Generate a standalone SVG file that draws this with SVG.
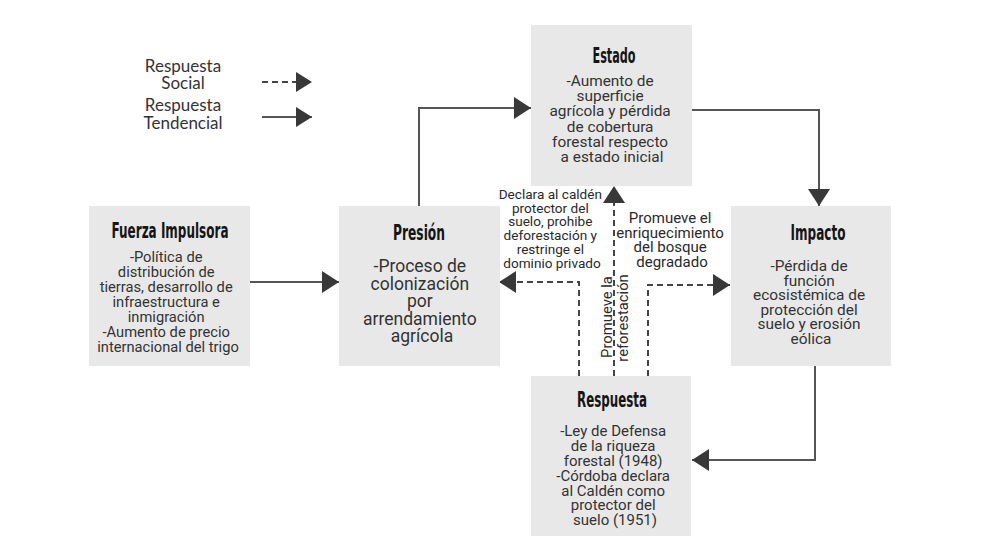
<svg xmlns="http://www.w3.org/2000/svg" width="1004" height="552" viewBox="0 0 1004 552">
<style>
.box{fill:#e8e8e8;}
.title{font-family:"Liberation Sans Narrow","DejaVu Sans Condensed","DejaVu Sans",sans-serif;font-weight:bold;font-stretch:condensed;font-size:21px;fill:#151515;text-anchor:middle;}
.body{font-family:Roboto,"Liberation Sans",sans-serif;fill:#333;text-anchor:middle;}
.lbl{font-family:Roboto,"Liberation Sans",sans-serif;fill:#2a2a2a;text-anchor:middle;}
.leg{font-family:Lato,"Liberation Sans",sans-serif;font-size:17px;fill:#333;text-anchor:middle;}
.solid{fill:none;stroke:#555;stroke-width:2;}
.dash{fill:none;stroke:#444;stroke-width:2;stroke-dasharray:6,4;}
</style>
<defs>
<marker id="ah" markerUnits="userSpaceOnUse" markerWidth="18" markerHeight="22" refX="17" refY="11" orient="auto">
<path d="M0,0 L17,11 L0,22 Z" fill="#383838"/>
</marker>
<marker id="ahl" markerUnits="userSpaceOnUse" markerWidth="17" markerHeight="20" refX="16" refY="10" orient="auto">
<path d="M0,0 L16,10 L0,20 Z" fill="#383838"/>
</marker>
</defs>
<rect width="1004" height="552" fill="#ffffff"/>

<g id="legend">
<text class="leg" x="183" y="72">Respuesta</text>
<text class="leg" x="183" y="89">Social</text>
<text class="leg" x="183" y="111">Respuesta</text>
<text class="leg" x="183" y="129">Tendencial</text>
<path class="dash" d="M262,82 H312" marker-end="url(#ahl)"/>
<path class="solid" d="M262,117 H312" marker-end="url(#ahl)"/>
</g>

<g id="connectors">
<path class="solid" d="M250,282 H339" marker-end="url(#ah)"/>
<path class="solid" d="M419,206 V108 H531" marker-end="url(#ah)"/>
<path class="solid" d="M692,110 H819 V206" marker-end="url(#ah)"/>
<path class="solid" d="M815,366 V460 H692" marker-end="url(#ah)"/>
<path class="dash" d="M579,376 V282 H499" marker-end="url(#ah)"/>
<path class="dash" d="M614,376 V186" marker-end="url(#ah)"/>
<path class="dash" d="M648,376 V285 H730" marker-end="url(#ah)"/>
</g>

<g id="estado">
<rect class="box" x="531" y="25" width="161" height="161"/>
<text class="title" x="614" y="63" textLength="43" lengthAdjust="spacingAndGlyphs">Estado</text>
<text class="body" font-size="15.4" x="612">
<tspan x="612" y="86">-Aumento de</tspan>
<tspan x="612" y="101">superficie</tspan>
<tspan x="612" y="116">agrícola y pérdida</tspan>
<tspan x="612" y="131.5">de cobertura</tspan>
<tspan x="612" y="146.5">forestal respecto</tspan>
<tspan x="612" y="162">a estado inicial</tspan>
</text>
</g>

<g id="fuerza">
<rect class="box" x="89" y="206" width="161" height="160"/>
<text class="title" x="170" y="238" textLength="117" lengthAdjust="spacingAndGlyphs">Fuerza Impulsora</text>
<text class="body" font-size="14.7" x="168">
<tspan x="168" y="262">-Política de</tspan>
<tspan x="168" y="277">distribución de</tspan>
<tspan x="168" y="292">tierras, desarrollo de</tspan>
<tspan x="168" y="307">infraestructura e</tspan>
<tspan x="168" y="322">inmigración</tspan>
<tspan x="168" y="337">-Aumento de precio</tspan>
<tspan x="168" y="352">internacional del trigo</tspan>
</text>
</g>

<g id="presion">
<rect class="box" x="339" y="206" width="161" height="160"/>
<text class="title" x="419" y="240" textLength="52" lengthAdjust="spacingAndGlyphs">Presión</text>
<text class="body" font-size="17.5" x="422">
<tspan x="422" y="272">-Proceso de</tspan>
<tspan x="422" y="289.5">colonización</tspan>
<tspan x="422" y="307">por</tspan>
<tspan x="422" y="324.5">arrendamiento</tspan>
<tspan x="422" y="342">agrícola</tspan>
</text>
</g>

<g id="impacto">
<rect class="box" x="731" y="206" width="160" height="160"/>
<text class="title" x="818" y="240" textLength="55" lengthAdjust="spacingAndGlyphs">Impacto</text>
<text class="body" font-size="15.4" x="811">
<tspan x="811" y="271">-Pérdida de</tspan>
<tspan x="811" y="285.5">función</tspan>
<tspan x="811" y="300">ecosistémica de</tspan>
<tspan x="811" y="314.5">protección del</tspan>
<tspan x="811" y="329">suelo y erosión</tspan>
<tspan x="811" y="343.5">eólica</tspan>
</text>
</g>

<g id="respuesta">
<rect class="box" x="531" y="376" width="160" height="160"/>
<text class="title" x="612" y="407" textLength="70" lengthAdjust="spacingAndGlyphs">Respuesta</text>
<text class="body" font-size="15" x="615">
<tspan x="615" y="436">-Ley de Defensa</tspan>
<tspan x="615" y="451">de la riqueza</tspan>
<tspan x="615" y="466">forestal (1948)</tspan>
<tspan x="615" y="480.5">-Córdoba declara</tspan>
<tspan x="615" y="495.5">al Caldén como</tspan>
<tspan x="615" y="510">protector del</tspan>
<tspan x="615" y="525">suelo (1951)</tspan>
</text>
</g>

<g id="labels">
<text class="lbl" font-size="13.6" x="552">
<tspan x="552" y="199">Declara al caldén</tspan>
<tspan x="552" y="212.7">protector del</tspan>
<tspan x="552" y="226.4">suelo, prohibe</tspan>
<tspan x="552" y="240">deforestación y</tspan>
<tspan x="552" y="253.8">restringe el</tspan>
<tspan x="552" y="267.5">dominio privado</tspan>
</text>
<text class="lbl" font-size="15" x="672">
<tspan x="672" y="223.3">Promueve el</tspan>
<tspan x="672" y="237.8">enriquecimiento</tspan>
<tspan x="672" y="252.2">del bosque</tspan>
<tspan x="672" y="266.7">degradado</tspan>
</text>
<text class="lbl" font-size="14.8" transform="translate(612,317) rotate(-90)" x="0" y="0">Promueve la</text>
<text class="lbl" font-size="14.8" transform="translate(627.5,318) rotate(-90)" x="0" y="0">reforestación</text>
</g>
</svg>
